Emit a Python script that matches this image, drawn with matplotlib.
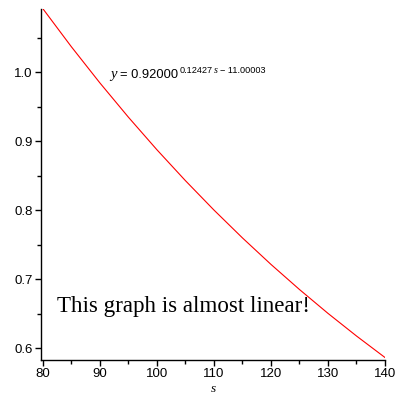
import matplotlib
matplotlib.use("Agg")
import matplotlib.pyplot as plt
from matplotlib.ticker import MultipleLocator

# values
s_vals = [80, 85, 90, 95, 100, 105, 110, 115, 120, 125, 130, 135, 140]
y_vals = [1.0923, 1.0371, 0.9847, 0.9350, 0.8878, 0.8430, 0.8004,
          0.7600, 0.7216, 0.6852, 0.6506, 0.6178, 0.5866]
x_ticks = [80, 90, 100, 110, 120, 130, 140]
y_ticks = [0.6, 0.7, 0.8, 0.9, 1.0]

fig = plt.figure(figsize=(4, 4), dpi=100)
ax = fig.add_axes([0.102, 0.10, 0.8605, 0.878])
ax.plot(s_vals, y_vals, color="red", lw=0.8)
ax.set_xlim(79.65, 140)
ax.set_ylim(0.583, 1.092)
for sp in ["top", "right"]:
    ax.spines[sp].set_visible(False)
for sp in ["left", "bottom"]:
    ax.spines[sp].set_linewidth(1.0)
ax.set_xticks(x_ticks)
ax.set_yticks(y_ticks)
ax.set_yticklabels([f"{v:.1f}" for v in y_ticks])
ax.xaxis.set_minor_locator(MultipleLocator(5))
ax.yaxis.set_minor_locator(MultipleLocator(0.05))
ax.tick_params(which="major", direction="out", length=4.2, width=1.0,
               labelsize=9.5, pad=1.5)
ax.tick_params(which="minor", direction="out", length=2.6, width=1.0)
for lab in ax.get_xticklabels() + ax.get_yticklabels():
    lab.set_fontfamily("Liberation Sans")

fig.text(213/400, 1-389/400, "s", fontfamily="Liberation Serif",
         fontstyle="italic", fontsize=9.5, ha="center", va="center")

t_y = fig.text(110/400, 1-78/400, "y", fontfamily="Liberation Serif",
               fontstyle="italic", fontsize=10.5, ha="left", va="baseline")
t_eq = ax.annotate("= 0.92000", xy=(1, 0), xycoords=t_y,
                   xytext=(2.5, 0), textcoords="offset points",
                   fontfamily="Liberation Sans", fontsize=9.3,
                   ha="left", va="bottom")
t_e1 = ax.annotate("0.12427", xy=(1, 0), xycoords=t_eq,
                   xytext=(0.8, 4), textcoords="offset points",
                   fontfamily="Liberation Sans", fontsize=6.6,
                   ha="left", va="bottom")
t_e2 = ax.annotate("s", xy=(1, 0), xycoords=t_e1,
                   xytext=(1.0, 0), textcoords="offset points",
                   fontfamily="Liberation Serif", fontstyle="italic",
                   fontsize=7.3, ha="left", va="bottom")
ax.annotate("\u2212 11.00003", xy=(1, 0), xycoords=t_e2,
            xytext=(1.6, 0), textcoords="offset points",
            fontfamily="Liberation Sans", fontsize=6.6,
            ha="left", va="bottom")

fig.text(57/400, 1-312/400, "This graph is almost linear!",
         fontfamily="Liberation Serif", fontsize=16.6, ha="left", va="baseline")

fig.savefig("out.png", dpi=100)
